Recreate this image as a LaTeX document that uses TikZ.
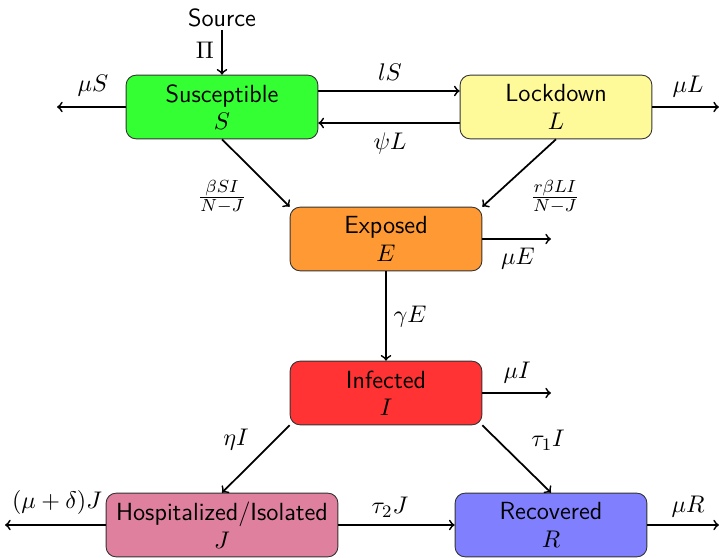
\documentclass[tikz,border=0pt]{standalone}
\usepackage{amsmath}
\begin{document}
\begin{tikzpicture}[x=0.016cm,y=-0.016cm,
  every node/.style={font=\fontsize{11.3}{13.5}\selectfont},
  box/.style={draw=black!80,rounded corners=0.16cm,minimum width=3.07cm,minimum height=1.02cm,font=\fontsize{11.3}{13.5}\selectfont\sffamily,align=center,inner sep=1pt},
  flow/.style={->,thick},
  lbl/.style={inner sep=1pt}]
\useasboundingbox (0,0) rectangle (719,558);
\node[box,fill=green!80] (S) at (222,107) {Susceptible\\[-1pt]$S$};
\node[box,fill=yellow!40] (L) at (556,107) {Lockdown\\[-1pt]$L$};
\node[box,fill=orange!80] (E) at (386,239) {Exposed\\[-1pt]$E$};
\node[box,fill=red!80] (I) at (386,393) {Infected\\[-1pt]$I$};
\node[box,fill=purple!50,minimum width=3.71cm] (J) at (222,525) {Hospitalized/Isolated\\[-1pt]$J$};
\node[box,fill=blue!50] (R) at (551,525) {Recovered\\[-1pt]$R$};
\node[font=\fontsize{11.3}{13.5}\selectfont\sffamily,inner sep=1pt] (src) at (222,18) {Source};
\coordinate (cS) at (57,107);
\coordinate (cL) at (719,107);
\coordinate (cE) at (551,239);
\coordinate (cI) at (551,393);
\coordinate (cJ) at (5,525);
\coordinate (cR) at (719,525);
\draw[flow] (src) -- (S.north);
\node[lbl] (pi) at (205,50) {$\Pi$};
\draw[flow] (S.west) -- (cS);
\node[lbl] (lmS) at (93,86) {$\mu S$};
\draw[flow] (S.east |- 0,91) -- (L.west |- 0,91);
\node[lbl] (llS) at (390,72) {$lS$};
\draw[flow] (L.west |- 0,123) -- (S.east |- 0,123);
\node[lbl] (lpsi) at (390,143) {$\psi L$};
\draw[flow] (L.east) -- (cL);
\node[lbl] (lmL) at (688,87) {$\mu L$};
\draw[flow] (S.south) -- (E.north west);
\node[lbl] (lbS) at (222,197) {$\frac{\beta SI}{N-J}$};
\draw[flow] (L.south) -- (E.north east);
\node[lbl] (lbL) at (555,197) {$\frac{r\beta LI}{N-J}$};
\draw[flow] (E.east) -- (cE);
\node[lbl] (lmE) at (518,259) {$\mu E$};
\draw[flow] (E.south) -- (I.north);
\node[lbl] (lgE) at (410,317) {$\gamma E$};
\draw[flow] (I.east) -- (cI);
\node[lbl] (lmI) at (517,373) {$\mu I$};
\draw[flow] (I.south west) -- (J.north);
\node[lbl] (leta) at (236,440) {$\eta I$};
\draw[flow] (I.south east) -- (R.north);
\node[lbl] (ltau1) at (548,440) {$\tau_1 I$};
\draw[flow] (J.west) -- (cJ);
\node[lbl] (lmdJ) at (57,502) {$(\mu+\delta)J$};
\draw[flow] (J.east) -- (R.west);
\node[lbl] (ltau2) at (390,507) {$\tau_2 J$};
\draw[flow] (R.east) -- (cR);
\node[lbl] (lmR) at (688,507) {$\mu R$};
\end{tikzpicture}
\end{document}
